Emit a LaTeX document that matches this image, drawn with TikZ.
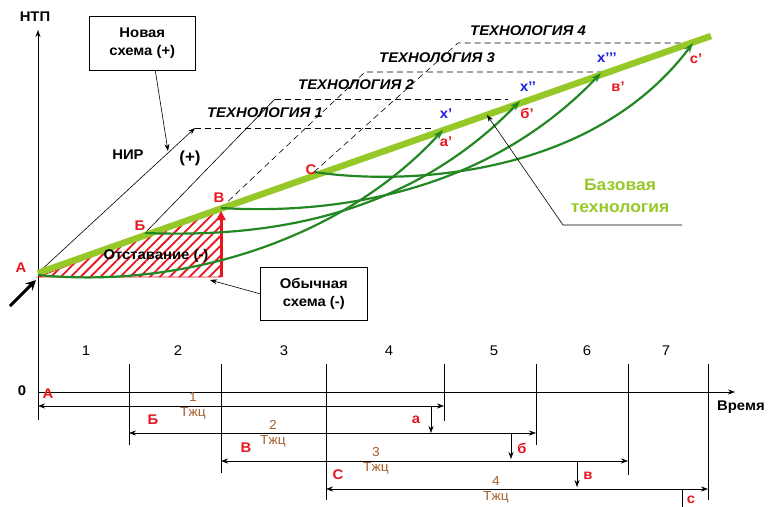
\documentclass[tikz,border=0pt]{standalone}
\usepackage{fontspec}
\setmainfont{Liberation Sans}[FakeStretch=1.06]
\usetikzlibrary{arrows.meta,patterns.meta}
\definecolor{basegreen}{RGB}{150,200,40}
\definecolor{curvegreen}{RGB}{35,135,35}
\definecolor{lblred}{RGB}{232,20,30}
\definecolor{lblblue}{RGB}{30,30,220}
\definecolor{tbrown}{RGB}{165,95,45}
\begin{document}
\begin{tikzpicture}[x=1pt,y=-1pt,
  lbl/.style={font=\fontsize{14}{16}\selectfont\bfseries, inner sep=0pt},
  redlbl/.style={lbl, text=lblred},
  bluelbl/.style={lbl, text=lblblue},
  techlbl/.style={font=\fontsize{14}{16}\selectfont\bfseries\itshape, inner sep=0pt},
  numlbl/.style={font=\fontsize{14}{16}\selectfont, inner sep=0pt},
  tzlbl/.style={font=\fontsize{13}{15}\selectfont, text=tbrown, inner sep=0pt, align=center},
  infobox/.style={draw, line width=0.6pt, fill=white, minimum width=106pt, minimum height=54pt, inner sep=0pt, align=center, font=\fontsize{14}{18}\selectfont\bfseries},
  thinline/.style={line width=0.6pt},
  dashline/.style={line width=0.6pt, dash pattern=on 6pt off 4pt},
  tip/.style={-{Stealth[length=7pt,width=5pt]}},
  dtip/.style={{Stealth[length=7pt,width=5pt]}-{Stealth[length=7pt,width=5pt]}},
  gcurve/.style={curvegreen, line width=2.2pt, -{Stealth[length=10pt,width=7pt]}}
]
\useasboundingbox (0,0) rectangle (768,506);

% ---------- coordinates ----------
\coordinate (A) at (38,273);
\coordinate (B1) at (145,233);
\coordinate (V) at (221,208);
\coordinate (C) at (314,172);
\coordinate (baseend) at (711,36);
\coordinate (t1) at (195,128);
\coordinate (t1e) at (432,128);
\coordinate (t2) at (275,99);
\coordinate (t2e) at (508,99);
\coordinate (t3) at (365,72);
\coordinate (t3e) at (602,72);
\coordinate (t4) at (458,43);
\coordinate (t4e) at (683,43);
\coordinate (ap) at (443,130);
\coordinate (bp) at (520,101);
\coordinate (vp) at (601,73);
\coordinate (cp) at (693,43);

% ---------- axes ----------
\coordinate (ybot) at (38,420);
\coordinate (ytop) at (38,30);
\draw[thinline, tip] (ybot) -- (ytop);
\node[lbl] (ntp) at (35,17) {НТП};

% ---------- hatched triangle ----------
\coordinate (triA) at (38,277);
\coordinate (triB) at (221,277);
\fill[pattern={Lines[angle=45,distance=7pt,line width=1.8pt]}, pattern color=lblred] (triA) -- (V) -- (triB) -- cycle;
\draw[lblred, line width=0.8pt] (triA) -- (V) -- (triB) -- cycle;

% ---------- technology lines ----------
\draw[thinline, tip] (A) -- (t1);
\draw[dashline] (t1) -- (t1e);
\draw[thinline] (B1) -- (t2);
\draw[dashline] (t2) -- (t2e);
\draw[dashline] (V) -- (t3) -- (t3e);
\draw[dashline] (C) -- (t4) -- (t4e);

% ---------- base technology ----------
\draw[basegreen, line width=6.5pt] (A) -- (baseend);

% ---------- red arrow ----------
\draw[lblred, line width=3pt, -{Triangle[length=9pt,width=9pt]}] (triB) -- (221,211);

% ---------- green curves ----------
\draw[gcurve] (38,275) .. controls (180,289) and (340,242) .. (ap);
\draw[gcurve] (B1) .. controls (250,237) and (400,225) .. (bp);
\draw[gcurve] (V) .. controls (320,214) and (480,200) .. (vp);
\draw[gcurve] (C) .. controls (400,185) and (590,180) .. (cp);

% ---------- labels on graph ----------
\node[redlbl] (lA) at (21,268) {А};
\node[redlbl] (lB) at (140,226) {Б};
\node[redlbl] (lV) at (219,198) {В};
\node[redlbl] (lC) at (311,170) {С};
\node[lbl] (nir) at (128,155) {НИР};
\node[lbl, font=\fontsize{16}{18}\selectfont\bfseries] (plus) at (190,158) {(+)};
\node[lbl] (lag) at (156,256) {Отставание (-)};
\node[techlbl] (tl1) at (265,113) {ТЕХНОЛОГИЯ 1};
\node[techlbl] (tl2) at (356,85) {ТЕХНОЛОГИЯ 2};
\node[techlbl] (tl3) at (437,58) {ТЕХНОЛОГИЯ 3};
\node[techlbl] (tl4) at (528,31) {ТЕХНОЛОГИЯ 4};
\node[bluelbl] (x1) at (446,114) {x'};
\node[redlbl] (a1) at (446,142) {а'};
\node[bluelbl] (x2) at (528,87) {x'{}'};
\node[redlbl] (b1) at (527,113) {б'};
\node[bluelbl] (x3) at (607,58) {x'{}'{}'};
\node[redlbl] (v1) at (618,87) {в'};
\node[redlbl] (c1) at (696,59) {с'};

% ---------- boxes ----------
\node[infobox, anchor=north west] (newbox) at (89,16) {Новая\\схема (+)};
\coordinate (nirpt) at (168,151);
\draw[thinline, tip] ([xshift=13pt]newbox.south) -- (nirpt);
\node[infobox, anchor=north west, minimum width=107pt, minimum height=53pt] (oldbox) at (260,267) {Обычная\\схема (-)};
\coordinate (tript) at (210,280);
\draw[thinline, tip] (oldbox.west) -- (tript);

% ---------- base technology label ----------
\node[lbl, font=\fontsize{16.5}{22}\selectfont\bfseries, text=basegreen, align=center] (basetxt) at (620,196) {Базовая\\технология};
\coordinate (bpa) at (682,225);
\coordinate (bpb) at (563,225);
\coordinate (bpc) at (487,115);
\draw[thinline, tip] (bpa) -- (bpb) -- (bpc);

% ---------- black entry arrow ----------
\coordinate (ent0) at (10,306);
\coordinate (ent1) at (36,280);
\draw[line width=3pt, -{Stealth[length=10pt,width=10pt]}] (ent0) -- (ent1);

% ---------- time axis ----------
\coordinate (t0) at (38,392);
\coordinate (tend) at (735,392);
\draw[thinline, tip] (t0) -- (tend);
\node[lbl] (zero) at (22,391) {0};
\node[lbl, anchor=west] (time) at (717,407) {Время};

\foreach \n/\x in {1/86,2/178,3/284,4/389,5/494,6/587,7/666}
  \node[numlbl] (num\n) at (\x,351) {\n};

% vertical period lines
\foreach \nm/\x/\yb in {va/129/445, vb/221/473, vc/326/500, vd/444/421, ve/536/445, vf/628/475, vg/708/500}{
  \coordinate (\nm t) at (\x,364);
  \coordinate (\nm b) at (\x,\yb);
  \draw[thinline] (\nm t) -- (\nm b);
}

% cycle arrows
\coordinate (r1l) at (38,406);  \coordinate (r1r) at (444,406);
\coordinate (r2l) at (129,433); \coordinate (r2r) at (536,433);
\coordinate (r3l) at (221,461); \coordinate (r3r) at (628,461);
\coordinate (r4l) at (326,489); \coordinate (r4r) at (708,489);
\draw[thinline, dtip] (r1l) -- (r1r);
\draw[thinline, dtip] (r2l) -- (r2r);
\draw[thinline, dtip] (r3l) -- (r3r);
\draw[thinline, dtip] (r4l) -- (r4r);

\node[tzlbl] (tz1) at (193,406) {1\\Тжц};
\node[tzlbl] (tz2) at (273,434) {2\\Тжц};
\node[tzlbl] (tz3) at (376,461) {3\\Тжц};
\node[tzlbl] (tz4) at (496,490) {4\\Тжц};

% down arrows
\coordinate (da0) at (431,406); \coordinate (da1) at (431,433);
\coordinate (db0) at (511,433); \coordinate (db1) at (511,459);
\coordinate (dv0) at (577,461); \coordinate (dv1) at (577,487);
\coordinate (dc0) at (682,489); \coordinate (dc1) at (682,510);
\draw[thinline, tip] (da0) -- (da1);
\draw[thinline, tip] (db0) -- (db1);
\draw[thinline, tip] (dv0) -- (dv1);
\draw[thinline] (dc0) -- (dc1);

\node[redlbl] (bA) at (48,394) {А};
\node[redlbl] (bB) at (153,420) {Б};
\node[redlbl] (bV) at (246,448) {В};
\node[redlbl] (bC) at (338,475) {С};
\node[redlbl] (ba) at (416,420) {а};
\node[redlbl] (bb) at (522,448) {б};
\node[redlbl] (bv) at (588,476) {в};
\node[redlbl] (bc) at (691,500) {с};
\end{tikzpicture}
\end{document}
